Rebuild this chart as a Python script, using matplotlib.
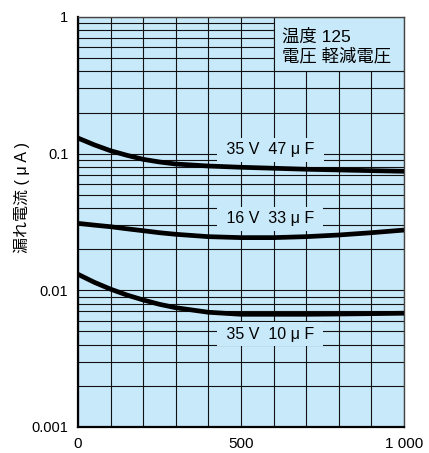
import matplotlib
matplotlib.use("Agg")
import matplotlib.pyplot as plt
from matplotlib.patches import Rectangle
from matplotlib.ticker import FixedLocator, FixedFormatter, LogLocator, NullFormatter

plt.rcParams['font.family'] = ['Liberation Sans', 'Noto Sans CJK JP']

# Time axis (h) sample points
hours = [0, 50, 100, 150, 200, 250, 300, 400, 500, 600, 700, 800, 900, 1000]

# Leakage current (uA) for each capacitor
leak_35v_47uf = [0.130, 0.116, 0.105, 0.0973, 0.0909, 0.0869, 0.0840, 0.0812,
                 0.0795, 0.0782, 0.0769, 0.0760, 0.0751, 0.0743]
leak_16v_33uf = [0.0309, 0.0300, 0.0292, 0.0282, 0.0273, 0.0264, 0.0257, 0.0247,
                 0.0243, 0.0243, 0.0247, 0.0254, 0.0264, 0.0276]
leak_35v_10uf = [0.0131, 0.01145, 0.0102, 0.00924, 0.0085, 0.0079, 0.00746, 0.00691,
                 0.00668, 0.00668, 0.00668, 0.00671, 0.00675, 0.0068]

series_labels = ["35 V  47 μ F", "16 V  33 μ F", "35 V  10 μ F"]
label_positions = [(590, 0.1064), (590, 0.0333), (590, 0.00479)]

x_ticks = [0, 500, 1000]
x_tick_labels = ["0", "500", "1 000"]
y_ticks = [0.001, 0.01, 0.1, 1]
y_tick_labels = ["0.001", "0.01", "0.1", "1"]

y_axis_label = "漏れ電流 ( μ A )"
condition_lines = ["温度 125", "電圧 軽減電圧"]

BG = "#c8e9fa"
GRID = "#111111"

fig = plt.figure(figsize=(4.29, 4.53), dpi=100)
ax = fig.add_axes([0.1818, 0.0574, 0.7599, 0.9051])
ax.set_facecolor(BG)

ax.set_xlim(0, 1000)
ax.set_yscale('log')
ax.set_ylim(0.001, 1)

ax.xaxis.set_major_locator(FixedLocator(x_ticks))
ax.xaxis.set_major_formatter(FixedFormatter(x_tick_labels))
ax.xaxis.set_minor_locator(FixedLocator(list(range(0, 1001, 100))))
ax.yaxis.set_major_locator(FixedLocator(y_ticks))
ax.yaxis.set_major_formatter(FixedFormatter(y_tick_labels))
ax.yaxis.set_minor_locator(LogLocator(base=10, subs=range(2, 10)))
ax.yaxis.set_minor_formatter(NullFormatter())

ax.tick_params(which='both', length=0)
ax.tick_params(axis='x', pad=7, labelsize=11)
ax.tick_params(axis='y', pad=7, labelsize=10.5)

ax.set_axisbelow(True)
ax.grid(True, which='both', color=GRID, linewidth=0.8)

for side in ['left', 'bottom']:
    ax.spines[side].set_linewidth(1.6)
    ax.spines[side].set_color('#000000')
for side in ['top', 'right']:
    ax.spines[side].set_linewidth(1.0)
    ax.spines[side].set_color('#444444')

# Conditions box in the upper right corner
ax.add_patch(Rectangle((600, 0.4), 400, 0.6, facecolor=BG, edgecolor=GRID,
                       linewidth=0.8, zorder=1))
ax.text(626, 0.72, condition_lines[0], fontsize=12.5, va='center', ha='left', zorder=5)
ax.text(626, 0.515, condition_lines[1], fontsize=12.5, va='center', ha='left', zorder=5)

for values in (leak_35v_47uf, leak_16v_33uf, leak_35v_10uf):
    ax.plot(hours, values, color='black', linewidth=3.4, solid_capstyle='butt', zorder=3)

for text, (lx, ly) in zip(series_labels, label_positions):
    ax.text(lx, ly, " " + text + " ", fontsize=11.5, ha='center', va='center', zorder=5,
            bbox=dict(boxstyle='square,pad=0.3', facecolor=BG, edgecolor='none'))

ax.set_ylabel(y_axis_label, fontsize=11.5)
ax.yaxis.label.set_va('center')
ax.yaxis.set_label_coords(-0.173, 0.56)

fig.savefig("out.png", dpi=100)
